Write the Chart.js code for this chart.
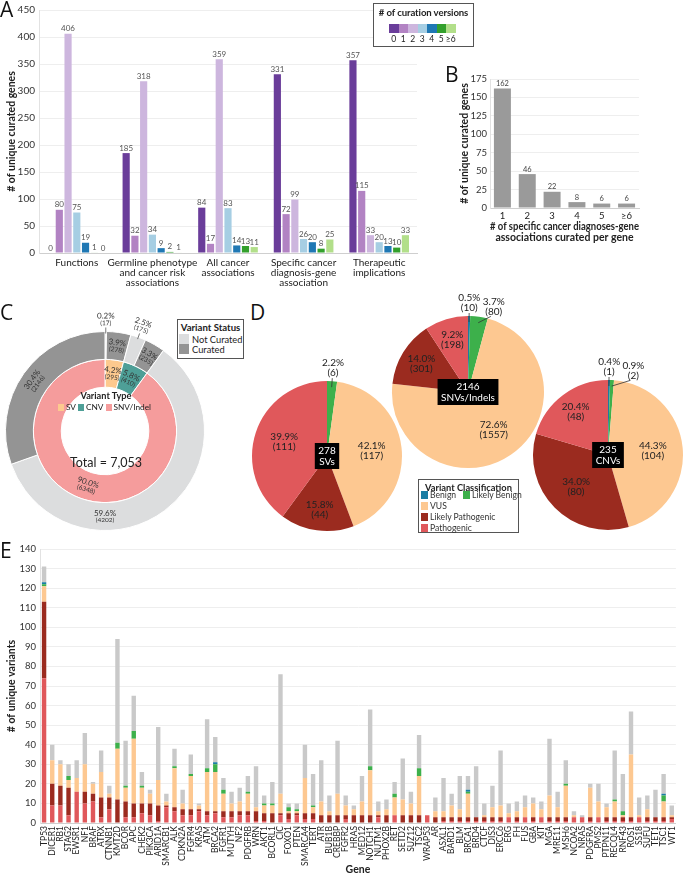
<!DOCTYPE html>
<html><head><meta charset="utf-8">
<script src="https://cdn.jsdelivr.net/npm/chart.js@4.4.1/dist/chart.umd.min.js"></script>
<style>
html,body{margin:0;padding:0;background:#fff;}
#page{position:relative;width:685px;height:877px;overflow:hidden;font-family:Lato,"Open Sans",sans-serif;color:#222;}
canvas{position:absolute;}
.letter{position:absolute;font-size:21px;font-family:"Open Sans",Lato,sans-serif;line-height:1;color:#111;}
.lbox{position:absolute;border:1px solid #555;background:#fff;box-sizing:border-box;}
.t{position:absolute;white-space:nowrap;line-height:1;}
.sw{position:absolute;}
.row{position:absolute;left:0;right:0;display:flex;justify-content:center;align-items:center;white-space:nowrap;line-height:1;}
.row span.s{display:inline-block;width:6px;height:7px;margin-right:1.5px;}
.row span.l{font-size:8.3px;margin-right:2.5px;}
</style></head><body><div id="page">
<canvas id="cA" width="420" height="290" style="left:0;top:0"></canvas>
<canvas id="cB" width="205" height="185" style="left:440px;top:60px"></canvas>
<canvas id="cC" width="215" height="230" style="left:0;top:306px"></canvas>
<canvas id="cSV" width="160" height="185" style="left:247px;top:351px"></canvas>
<canvas id="cCNV" width="157" height="185" style="left:528px;top:350px"></canvas>
<canvas id="cSNV" width="162" height="187" style="left:387px;top:286px"></canvas>
<canvas id="cE" width="685" height="342" style="left:0;top:535px"></canvas>

<div class="letter" style="left:0;top:-1px">A</div>
<div class="letter" style="left:445px;top:64px">B</div>
<div class="letter" style="left:0;top:302px">C</div>
<div class="letter" style="left:250px;top:302px">D</div>
<div class="letter" style="left:0;top:540px">E</div>

<div class="lbox" id="legA" style="left:373px;top:3px;width:101px;height:44px;"></div>
<div class="lbox" id="legStatus" style="left:177px;top:319px;width:67px;height:40px;"></div>
<div id="legType" style="position:absolute;left:50px;top:391px;width:112px;height:24px;"></div>
<div id="totalC" class="t" style="left:56px;top:457px;width:100px;text-align:center;font-size:12.5px;"></div>
<div class="lbox" id="legD" style="left:418px;top:479px;width:101px;height:54px;"></div>
</div>
<script>
// ---------------- DATA ----------------
// Panel A
const curationCategories = [["Functions"],["Germline phenotype","and cancer risk","associations"],["All cancer","associations"],["Specific cancer","diagnosis-gene","association"],["Therapeutic","implications"]];
const curationVersionLabels = ["0","1","2","3","4","5","\u22656"];
const versions0 = [0,185,84,331,357];
const versions1 = [80,32,17,72,115];
const versions2 = [406,318,359,99,33];
const versions3 = [75,34,83,26,20];
const versions4 = [19,9,14,20,13];
const versions5 = [1,2,13,8,10];
const versions6plus = [0,1,11,25,33];
// Panel B
const assocCountLabels = ["1","2","3","4","5","\u22656"];
const assocGeneCounts = [162,46,22,8,6,6];
// Panel C
const variantTypeLabels = ["SV","CNV","SNV/Indel"];
const variantTypeCounts = [295,410,6348];
const statusLabels = ["Not Curated","Curated"];
const statusSegmentLabels = ["SV not curated","SV curated","CNV not curated","CNV curated","SNV/Indel not curated","SNV/Indel curated"];
const statusSegmentCounts = [17,278,175,235,4202,2146];
// Panel D
const classLabels = ["Benign","Likely Benign","VUS","Likely Pathogenic","Pathogenic"];
const svClassCounts = [0,6,117,44,111];
const snvClassCounts = [10,80,1557,301,198];
const cnvClassCounts = [1,2,104,80,48];
// Panel E
const genes = ["TP53","DICER1","RB1","STAG2","EWSR1","NF1","BRAF","ATRX","CTNNB1","KMT2D","BCOR","APC","CHEK2","PIK3CA","ARID1A","SMARCB1","ALK","CDKN2A","FGFR4","KRAS","ATM","BRCA2","FGFR1","MUTYH","NF2","PDGFRB","WRN","AKT1","BCORL1","CIC","FOXO1","PTEN","SMARCA4","TERT","ATR","BUB1B","CREBBP","FGFR2","HRAS","MED12","NOTCH1","NUTM1","PHOX2B","RET","SETD2","SUZ12","TSC2","WRAP53","AR","ASXL1","BARD1","BLM","BRCA1","BRD4","CTCF","DIS3","ERCC6","ERG","FH","FUS","GBA","KIT","MGA","MRE11","MSH6","NCOA2","NRAS","PDGFRA","PMS2","PTPN11","RECQL4","RNF43","ROS1","SS18","SUFU","TET1","TSC1","WT1"];
const pathogenic =       [74,9,9,4,16,10,11,3,7,0,3,3,5,4,1,8,6,4,4,6,4,5,3,3,4,4,1,1,0,4,2,4,2,2,0,0,0,2,0,0,0,3,0,4,0,0,0,4,0,1,1,1,1,1,1,1,1,3,1,3,1,3,1,1,1,3,3,1,3,1,1,1,1,3,1,1,1,2];
const likelyPathogenic = [39,11,10,14,0,6,4,10,6,12,8,7,5,6,8,1,2,3,3,1,2,1,3,3,2,2,5,4,5,1,3,1,3,3,4,4,4,2,4,4,4,1,4,0,4,4,4,0,3,2,2,2,2,2,2,2,2,0,2,0,2,0,2,2,2,0,0,2,0,2,2,2,2,0,2,2,2,1];
const vus =              [8,12,11,4,7,14,5,13,2,26,7,33,8,5,13,2,20,3,17,2,20,20,9,4,5,9,2,4,4,10,1,1,18,3,7,2,11,5,3,7,23,2,3,9,8,6,20,0,3,3,6,4,12,0,1,5,6,2,3,5,7,4,11,5,16,1,0,15,8,5,8,1,32,1,4,0,8,1];
const likelyBenign =     [1,0,0,2,0,0,0,0,0,3,1,4,1,0,0,0,1,0,1,0,2,4,2,0,0,1,0,1,1,0,2,1,0,1,0,0,0,0,0,0,2,0,0,2,0,0,4,0,0,0,0,0,1,0,0,0,0,0,0,0,0,0,0,0,1,0,0,0,0,0,1,2,0,0,0,0,3,0];
const benign =           [1,0,0,0,0,0,0,0,0,0,0,0,0,0,0,0,0,0,0,0,0,1,0,0,0,0,0,0,0,0,0,0,0,0,0,0,0,0,0,0,0,0,0,0,0,0,0,0,0,0,0,0,1,0,0,0,0,0,0,0,0,0,0,0,0,0,0,0,0,0,0,0,0,0,0,0,1,0];
const notCurated =       [8,8,2,6,9,16,1,11,4,53,23,18,7,2,27,4,9,7,10,1,25,13,6,6,7,8,21,4,11,61,2,3,17,16,21,8,27,5,2,13,29,5,5,6,21,6,17,0,7,17,6,17,7,26,6,11,28,5,5,6,3,4,29,8,12,2,1,2,9,2,25,19,22,9,7,14,10,5];

// ---------------- STYLE ----------------
const FONT = 'Lato';
const C_VERSION = ['#6A3D9A','#B283C3','#CDB6DE','#A6CEE3','#1F78B4','#33A02C','#B2DF8A'];
const C_CLASS = ['#1B7DA3','#3DB04B','#FDC891','#9B2B1F','#E0585B'];
const C_TYPE = ['#FDC98E','#4E9F97','#F59C9C'];
const C_NOTCUR = '#DCDDDE', C_CUR = '#949494';
const C_E_NC = '#C9C9C9';
const sum = a => a.reduce((x,y)=>x+y,0);

// ---------------- PLUGINS ----------------
const barValueLabels = {
  id:'barValueLabels',
  afterDatasetsDraw(chart, args, o){
    const ctx = chart.ctx; ctx.save();
    ctx.font = o.font; ctx.fillStyle = o.color; ctx.textAlign='center'; ctx.textBaseline='bottom';
    chart.data.datasets.forEach((ds,di)=>{
      const meta = chart.getDatasetMeta(di);
      meta.data.forEach((bar,i)=>{ ctx.fillText(String(ds.data[i]), bar.x, bar.y - o.offset); });
    });
    ctx.restore();
  }
};

const arcLabels = {
  id:'arcLabels',
  afterDatasetsDraw(chart, args, o){
    const ctx = chart.ctx; ctx.save();
    ctx.textAlign='center'; ctx.textBaseline='middle';
    chart.data.datasets.forEach((ds,di)=>{
      const meta = chart.getDatasetMeta(di);
      const total = sum(ds.data);
      let prevOut = null;
      meta.data.forEach((arc,i)=>{
        const v = ds.data[i]; if(!v) return;
        const p = arc.getProps(['x','y','startAngle','endAngle','innerRadius','outerRadius'], true);
        const frac = v/total;
        let mid = (p.startAngle+p.endAngle)/2;
        const ov = (o.angleOverride||[]).find(a=>a.ds===di && a.i===i);
        if(ov) mid = ov.deg*Math.PI/180 - Math.PI/2;
        const pct = (frac*100).toFixed(1)+'%', cnt = '('+v+')';
        let cx, cy, ang = mid;
        if(frac < o.outsideBelow){
          const sep = o.minSep*Math.PI/180;
          if(prevOut!==null && ang - prevOut < sep) ang = prevOut + sep;
          prevOut = ang;
          const r = p.outerRadius + o.outGap;
          cx = p.x + r*Math.cos(ang); cy = p.y + r*Math.sin(ang);
          ctx.strokeStyle = o.leaderColor; ctx.lineWidth = 0.8;
          ctx.beginPath();
          ctx.moveTo(p.x + (p.outerRadius+o.leadA)*Math.cos(mid), p.y + (p.outerRadius+o.leadA)*Math.sin(mid));
          ctx.lineTo(p.x + (p.outerRadius+o.leadB)*Math.cos(ang), p.y + (p.outerRadius+o.leadB)*Math.sin(ang));
          ctx.stroke();
        } else {
          let r;
          if(p.innerRadius > 1) r = (p.innerRadius+p.outerRadius)/2;
          else r = p.outerRadius*(frac < o.smallFrac ? o.smallFactor : o.bigFactor);
          cx = p.x + r*Math.cos(mid); cy = p.y + r*Math.sin(mid);
        }
        let rot = 0;
        if(o.rotate){
          let th = ang + Math.PI/2;
          th = ((th % (2*Math.PI)) + 2*Math.PI) % (2*Math.PI);
          rot = (th > Math.PI/2 && th < 3*Math.PI/2) ? th - Math.PI : th;
        }
        ctx.save(); ctx.translate(cx,cy); ctx.rotate(rot);
        ctx.fillStyle = o.color;
        ctx.font = o.pctFont; ctx.fillText(pct, 0, o.pctDy);
        ctx.font = o.cntFont; ctx.fillText(cnt, 0, o.cntDy);
        ctx.restore();
      });
    });
    if(o.center){
      const a = chart.chartArea;
      const cx = (a.left+a.right)/2, cy = (a.top+a.bottom)/2;
      ctx.font = o.center.font;
      const w = Math.max(...o.center.lines.map(t=>ctx.measureText(t).width)) + 7;
      const h = o.center.lines.length*o.center.lh + 4;
      ctx.fillStyle = '#000'; ctx.fillRect(cx-w/2, cy-h/2, w, h);
      ctx.fillStyle = '#fff';
      o.center.lines.forEach((t,k)=>ctx.fillText(t, cx, cy - h/2 + 2 + o.center.lh*(k+0.5)));
    }
    ctx.restore();
  }
};

// ---------------- PANEL A ----------------
const versionSeries = [versions0,versions1,versions2,versions3,versions4,versions5,versions6plus];
new Chart(document.getElementById('cA'), {
  type:'bar',
  data:{labels:curationCategories, datasets:versionSeries.map((d,i)=>({label:curationVersionLabels[i], data:d, backgroundColor:C_VERSION[i], barPercentage:0.82, categoryPercentage:0.81}))},
  options:{responsive:false, animation:false, layout:{padding:{top:9,right:3,left:0,bottom:0}},
    plugins:{legend:{display:false}, tooltip:{enabled:false}, barValueLabels:{font:'8px '+FONT, color:'#555', offset:1}},
    scales:{
      x:{grid:{display:false, drawTicks:false}, border:{color:'#CFCFCF'}, ticks:{font:{size:10,family:FONT,lineHeight:1.0}, color:'#222', padding:5, maxRotation:0, autoSkip:false}, afterFit:s=>{s.height=37;}},
      y:{min:0,max:450, ticks:{stepSize:50, font:{size:10,family:FONT}, color:'#333', padding:4}, grid:{color:'#EEEEEE', drawTicks:false}, border:{color:'#E2E2E2'},
         title:{display:true, text:'# of unique curated genes', font:{size:10.5,family:FONT,weight:'bold'}, color:'#222', padding:{top:5,bottom:0}}, afterFit:s=>{s.width=39;}}
    }},
  plugins:[barValueLabels]
});
// legend A
(function(){
  const box = document.getElementById('legA');
  let h = '<div class="t" style="left:0;right:0;top:4px;text-align:center;font-weight:bold;font-size:9.6px;letter-spacing:-0.1px">#&nbsp;of curation versions</div>';
  curationVersionLabels.forEach((lab,i)=>{
    h += `<div class="sw" style="left:${15+i*9.5}px;top:20px;width:9.5px;height:9px;background:${C_VERSION[i]}"></div>`;
    h += `<div class="t" style="left:${15+i*9.5-2}px;top:31px;width:13.5px;text-align:center;font-size:8.5px">${lab}</div>`;
  });
  box.innerHTML = h;
})();

// ---------------- PANEL B ----------------
new Chart(document.getElementById('cB'), {
  type:'bar',
  data:{labels:assocCountLabels, datasets:[{data:assocGeneCounts, backgroundColor:'#9A9A9A', barPercentage:0.72, categoryPercentage:0.95}]},
  options:{responsive:false, animation:false, layout:{padding:{top:19,right:6,left:0,bottom:0}},
    plugins:{legend:{display:false}, tooltip:{enabled:false}, barValueLabels:{font:'7.5px '+FONT, color:'#444', offset:1}},
    scales:{
      x:{grid:{display:false, drawTicks:false}, border:{color:'#CFCFCF'}, ticks:{font:{size:9.5,family:FONT}, color:'#222', padding:2, maxRotation:0},
         title:{display:true, text:['# of specific cancer diagnoses-gene','associations curated per gene'], font:{size:10.5,family:FONT,weight:'bold',lineHeight:1.05}, color:'#222', padding:{top:0,bottom:2}}, afterFit:s=>{s.height=37;}},
      y:{min:0,max:175, ticks:{stepSize:25, font:{size:9.5,family:FONT}, color:'#333', padding:3}, grid:{color:'#EEEEEE', drawTicks:false}, border:{color:'#E2E2E2'},
         title:{display:true, text:'# of unique curated genes', font:{size:10.5,family:FONT,weight:'bold'}, color:'#222', padding:{top:18,bottom:0}}, afterFit:s=>{s.width=50;}}
    }},
  plugins:[barValueLabels]
});

// ---------------- PANEL C ----------------
const statusColors = statusSegmentCounts.map((_,i)=> i%2===0 ? C_NOTCUR : C_CUR);
new Chart(document.getElementById('cC'), {
  type:'doughnut',
  data:{labels:statusSegmentLabels, datasets:[
    {data:statusSegmentCounts, backgroundColor:statusColors, borderColor:'#fff', borderWidth:1},
    {data:variantTypeCounts, backgroundColor:C_TYPE, borderColor:'#fff', borderWidth:1}
  ]},
  options:{responsive:false, animation:false, cutout:'44%', layout:{padding:{left:5,top:25,right:10,bottom:5}},
    plugins:{legend:{display:false}, tooltip:{enabled:false},
      arcLabels:{rotate:true, outsideBelow:0.03, minSep:15, outGap:12, leadA:-2, leadB:4, leaderColor:'#555',
        pctFont:'8px '+FONT, cntFont:'6.5px '+FONT, pctDy:-3.6, cntDy:3.6, color:'#333',
        smallFrac:0, smallFactor:0.6, bigFactor:0.6, angleOverride:[{ds:0,i:4,deg:180}]}}},
  plugins:[arcLabels]
});
(function(){
  const st = document.getElementById('legStatus');
  st.innerHTML = '<div class="t" style="left:0;right:0;top:3px;text-align:center;font-weight:bold;font-size:9.6px">Variant Status</div>' +
    statusLabels.map((lab,i)=>`<div class="sw" style="left:1px;top:${14+i*10}px;width:10px;height:9.5px;background:${i===0?C_NOTCUR:C_CUR}"></div><div class="t" style="left:14px;top:${15+i*10}px;font-size:9.3px">${lab}</div>`).join('');
  const ty = document.getElementById('legType');
  let h = '<div class="t" style="left:0;right:0;top:0;text-align:center;font-weight:bold;font-size:9.2px">Variant Type</div><div class="row" style="top:12px">';
  variantTypeLabels.forEach((lab,i)=>{
    h += `<span class="s" style="background:${C_TYPE[i]}"></span><span class="l">${lab}</span>`;
  });
  ty.innerHTML = h + '</div>';
  document.getElementById('totalC').textContent = 'Total = ' + sum(variantTypeCounts).toLocaleString('en-US');
})();

// ---------------- PANEL D ----------------
function classPie(id, counts, typeName, pad){
  new Chart(document.getElementById(id), {
    type:'pie',
    data:{labels:classLabels, datasets:[{data:counts, backgroundColor:C_CLASS, borderWidth:0}]},
    options:{responsive:false, animation:false, layout:{padding:pad},
      plugins:{legend:{display:false}, tooltip:{enabled:false},
        arcLabels:{rotate:false, outsideBelow:0.05, minSep:16, outGap:13, leadA:-6, leadB:3, leaderColor:'#333',
          pctFont:'10px '+FONT, cntFont:'10px '+FONT, pctDy:-5, cntDy:5, color:'#222',
          smallFrac:0.25, smallFactor:0.72, bigFactor:0.6,
          center:{lines:[String(sum(counts)), typeName], font:'10px '+FONT, lh:11}}}},
    plugins:[arcLabels]
  });
}
classPie('cSV', svClassCounts, 'SVs', {left:5,top:30,right:5,bottom:5});
classPie('cCNV', cnvClassCounts, 'CNVs', {left:5,top:30,right:2,bottom:5});
classPie('cSNV', snvClassCounts, 'SNVs/Indels', {left:5,top:30,right:5,bottom:5});
(function(){
  const d = document.getElementById('legD');
  const pos = [[2,9],[44,9],[2,20],[2,31],[2,42]];
  let h = '<div class="t" style="left:0;right:0;top:3px;text-align:center;font-weight:bold;font-size:9.3px">Variant Classification</div>';
  classLabels.forEach((lab,i)=>{
    h += `<div class="sw" style="left:${pos[i][0]}px;top:${pos[i][1]+2}px;width:7px;height:8px;background:${C_CLASS[i]}"></div><div class="t" style="left:${pos[i][0]+9}px;top:${pos[i][1]+2}px;font-size:8.6px;color:#333">${lab}</div>`;
  });
  d.innerHTML = h;
})();

// ---------------- PANEL E ----------------
const eSeries = [
  {label:'Pathogenic', data:pathogenic, color:C_CLASS[4]},
  {label:'Likely Pathogenic', data:likelyPathogenic, color:C_CLASS[3]},
  {label:'VUS', data:vus, color:C_CLASS[2]},
  {label:'Likely Benign', data:likelyBenign, color:C_CLASS[1]},
  {label:'Benign', data:benign, color:C_CLASS[0]},
  {label:'Not Curated', data:notCurated, color:C_E_NC}
];
new Chart(document.getElementById('cE'), {
  type:'bar',
  data:{labels:genes, datasets:eSeries.map(s=>({label:s.label, data:s.data, backgroundColor:s.color, barPercentage:0.6, categoryPercentage:0.9}))},
  options:{responsive:false, animation:false, layout:{padding:{top:14,right:5,left:0,bottom:0}},
    plugins:{legend:{display:false}, tooltip:{enabled:false}},
    scales:{
      x:{stacked:true, grid:{display:false, drawTicks:false}, border:{color:'#CFCFCF'}, ticks:{autoSkip:false, maxRotation:90, minRotation:90, font:{size:8.5,family:FONT}, color:'#222', padding:3},
         title:{display:true, text:'Gene', font:{size:10.5,family:FONT,weight:'bold'}, color:'#222', padding:{top:0,bottom:1}}, afterFit:s=>{s.height=54;}},
      y:{stacked:true, min:0, max:140, ticks:{stepSize:10, font:{size:9.5,family:FONT}, color:'#333', padding:4}, grid:{color:'#EEEEEE', drawTicks:false}, border:{color:'#E2E2E2'},
         title:{display:true, text:'# of unique variants', font:{size:10.5,family:FONT,weight:'bold'}, color:'#222', padding:{top:5,bottom:0}}, afterFit:s=>{s.width=40;}}
    }}
});
</script>
</body></html>
